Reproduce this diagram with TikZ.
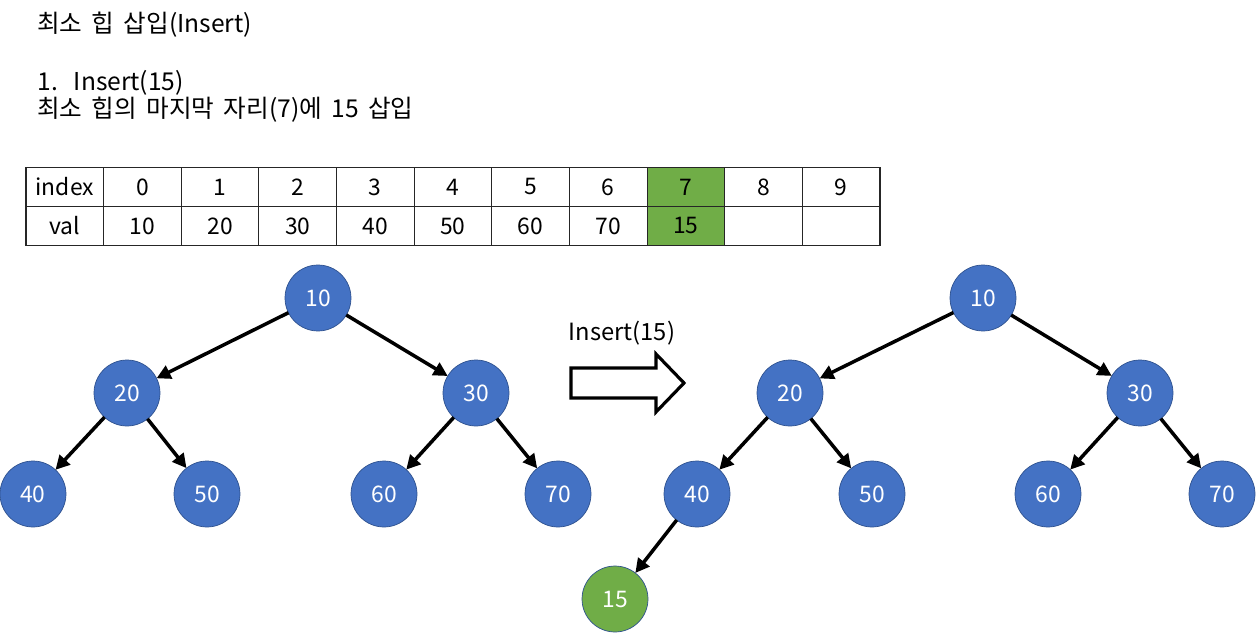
\documentclass[tikz,border=0pt]{standalone}
\usepackage{fontspec}
\setmainfont{Noto Sans CJK KR}
\newfontfamily\krtext[WordSpace=1.7]{Noto Sans CJK KR}
\usepackage{tkz-graph}
\usetikzlibrary{arrows.meta}
\definecolor{heapblue}{HTML}{4472C4}
\definecolor{heapline}{HTML}{2F528F}
\definecolor{heapgreen}{HTML}{70AD47}
\tikzset{
	VertexStyle/.style = {circle, draw=heapline, fill=heapblue, text=white, minimum size=1.32cm, inner sep=0pt, font=\fontsize{13pt}{15pt}\selectfont},
	EdgeStyle/.style = {-{Triangle[length=8pt,width=8pt]}, line width=2pt, black},
	cellbox/.style = {draw=black!85, line width=0.6pt, minimum width=1.553cm, minimum height=0.77cm, inner sep=0pt, font=\fontsize{13pt}{15pt}\selectfont},
	textline/.style = {anchor=base west, inner sep=0pt, font=\krtext\fontsize{14pt}{16pt}\selectfont}
}

\begin{document}
\begin{tikzpicture}[x=0.02cm, y=-0.02cm]
	\useasboundingbox (0,0) rectangle (1257,632);
	\node[textline] (title) at (37,32) {최소 힙 삽입(Insert)};
	\node[textline] (step) at (37,90) {1.\hspace{0.65em}Insert(15)};
	\node[textline] (desc) at (37,117) {최소 힙의 마지막 자리(7)에 15 삽입};
	% table
	\node[cellbox] (idx) at (64.8,187) {index};
	\node[cellbox] (val) at (64.8,226) {val};
	\foreach \v/\f [count=\c from 0] in {10/white,20/white,30/white,40/white,50/white,60/white,70/white,15/heapgreen,{}/white,{}/white}{
		\node[cellbox, fill=\f] (i\c) at ({142.4+77.64*\c},187) {\c};
		\node[cellbox, fill=\f] (v\c) at ({142.4+77.64*\c},226) {\v};
	}
	% before
	\Vertex[x=318,y=298,L=10]{a0}
	\Vertex[x=127,y=393,L=20]{a1}
	\Vertex[x=476,y=393,L=30]{a2}
	\Vertex[x=33,y=494,L=40]{a3}
	\Vertex[x=207,y=494,L=50]{a4}
	\Vertex[x=384,y=494,L=60]{a5}
	\Vertex[x=558,y=494,L=70]{a6}
	\Edge(a0)(a1)
	\Edge(a0)(a2)
	\Edge(a1)(a3)
	\Edge(a1)(a4)
	\Edge(a2)(a5)
	\Edge(a2)(a6)
	% insert arrow
	\node[font=\fontsize{13.5pt}{15pt}\selectfont] (op) at (622,333) {Insert(15)};
	\draw[line width=1.8pt, line join=miter] (571,368) -- (656,368) -- (656,354) -- (684,383) -- (656,412) -- (656,398) -- (571,398) -- cycle;
	% after
	\Vertex[x=983,y=298,L=10]{b0}
	\Vertex[x=790,y=393,L=20]{b1}
	\Vertex[x=1140,y=393,L=30]{b2}
	\Vertex[x=697,y=494,L=40]{b3}
	\Vertex[x=872,y=494,L=50]{b4}
	\Vertex[x=1048,y=494,L=60]{b5}
	\Vertex[x=1222,y=494,L=70]{b6}
	\begin{scope}[VertexStyle/.append style = {fill=heapgreen}]
		\Vertex[x=615,y=599,L=15]{b7}
	\end{scope}
	\Edge(b0)(b1)
	\Edge(b0)(b2)
	\Edge(b1)(b3)
	\Edge(b1)(b4)
	\Edge(b2)(b5)
	\Edge(b2)(b6)
	\Edge(b3)(b7)
\end{tikzpicture}
\end{document}
